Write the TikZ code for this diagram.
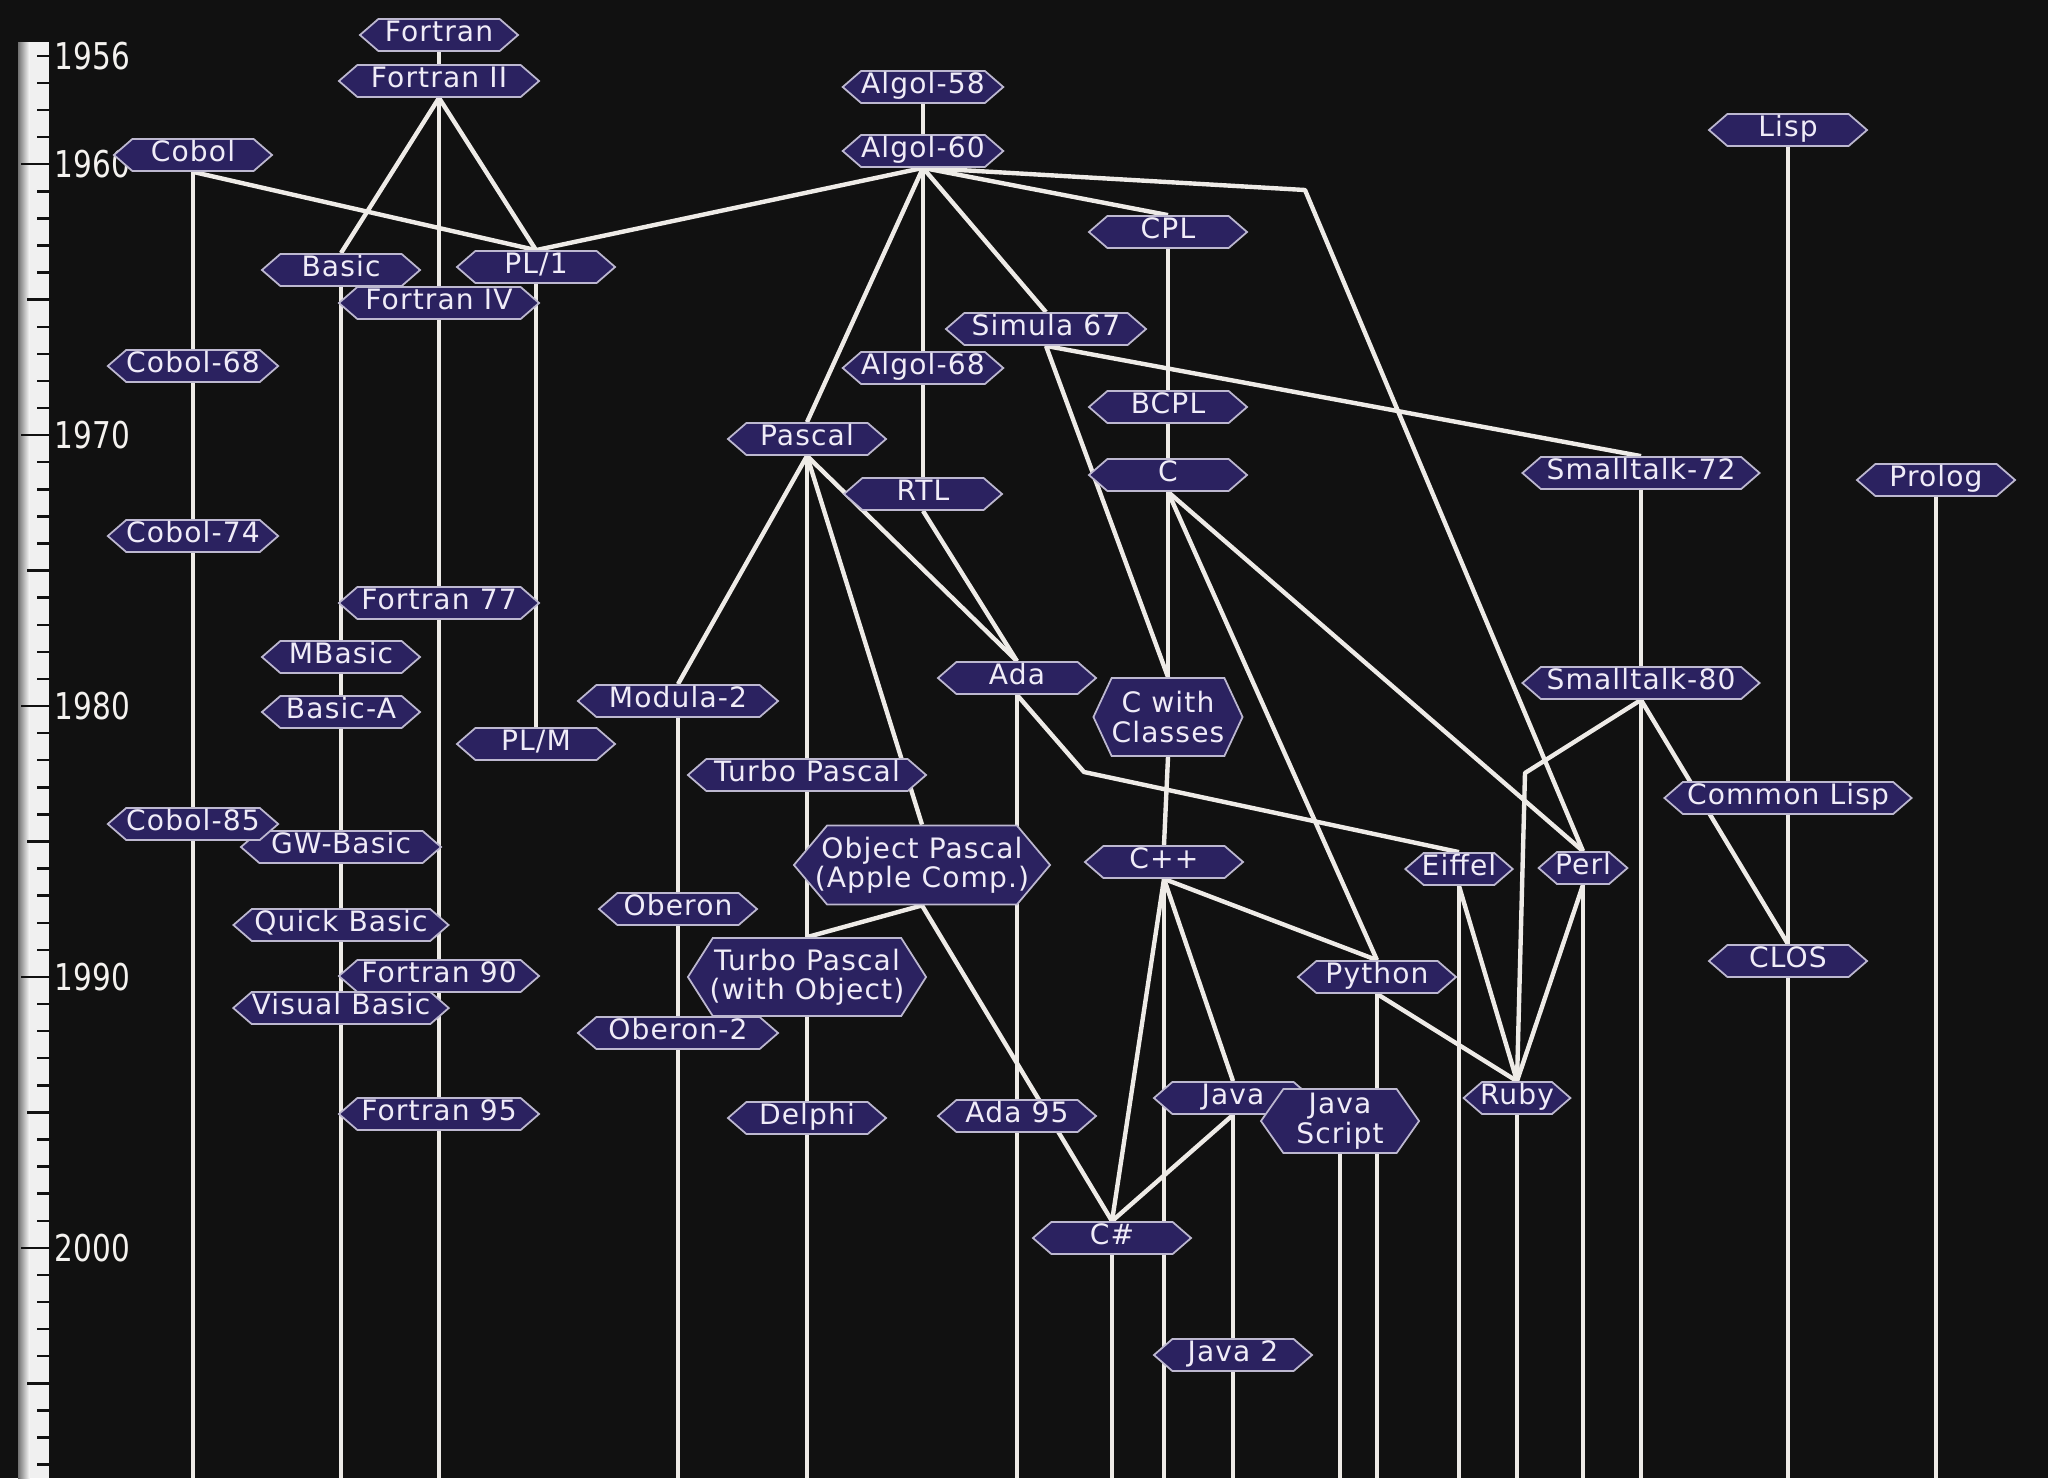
\documentclass[tikz,border=0pt]{standalone}
\usepackage{fontspec}
\usetikzlibrary{shapes.symbols}
\newfontfamily\langfont[LetterSpace=4]{DejaVu Sans}
\newfontfamily\yearfont[FakeStretch=0.8]{DejaVu Sans}
\definecolor{boardbg}{HTML}{111111}
\definecolor{langfill}{HTML}{2B2260}
\definecolor{langedge}{HTML}{BDB8D0}
\definecolor{langtext}{HTML}{F0ECF8}
\definecolor{wirecol}{HTML}{EEEBE7}
\definecolor{yearcol}{HTML}{F4F2EF}
\pgfdeclarelayer{back}
\pgfdeclarelayer{wires}
\pgfsetlayers{back,wires,main}

\begin{document}
\begin{tikzpicture}[x=0.01cm, y=-0.01cm,
  langbase/.style={signal, signal to=west and east, signal pointer angle=82,
    fill=langfill, draw=langedge, line width=0.5pt, text=langtext,
    font=\langfont\fontsize{8pt}{8.4pt}\selectfont,
    minimum width=1.58cm, minimum height=0.32cm, inner xsep=0pt, inner ysep=0pt},
  lang/.style={langbase, text height=5.8pt, text depth=2pt},
  wide/.style={minimum width=2cm},
  small/.style={minimum width=0pt, inner xsep=-0.02cm},
  twoline/.style={langbase, align=center},
  wire/.style={draw=wirecol, line width=1.25pt, line join=round},
  tick/.style={draw=boardbg, line width=0.7pt},
  year/.style={font=\yearfont\fontsize{10.5pt}{12pt}\selectfont, text=yearcol, inner sep=0pt, anchor=west}]

\useasboundingbox (0,0) rectangle (2048,1478);
\coordinate (floor) at (0,1478);

% Time scale
\begin{pgfonlayer}{back}
\fill[boardbg] (0,0) rectangle (2048,1478);
\shade[left color=black!55, right color=white] (18,42) rectangle (30,1478);
\fill[white!94!black] (30,42) rectangle (49,1478);
\foreach \yr in {1956,...,2008} {
  \pgfmathsetmacro\ty{164.2+(\yr-1960)*27.09}
  \pgfmathsetmacro\tx{ifthenelse(mod(\yr,10)==0,21,ifthenelse(mod(\yr,5)==0,27,37))}
  \draw[tick] (\tx,\ty) -- (49,\ty);
}
\foreach \yr in {1956,1960,1970,1980,1990,2000}
  \node[year] (y\yr) at (54,{164.2+(\yr-1960)*27.09}) {\yr};
\end{pgfonlayer}

% 1950s
\node[lang] (fortran) at (439,35) {Fortran};
\node[lang, wide] (fortran2) at (439,81) {Fortran II};
\node[lang] (algol58) at (923,87) {Algol-58};
\node[lang] (algol60) at (923,151) {Algol-60};
\node[lang] (lisp) at (1788,130) {Lisp};
\node[lang] (cobol) at (193,155) {Cobol};

% 1960s
\node[lang] (cpl) at (1168,232) {CPL};
\node[lang] (basic) at (341,270) {Basic};
\node[lang] (pl1) at (536,267) {PL/1};
\node[lang, wide] (fortran4) at (439,303) {Fortran IV};
\node[lang, wide] (simula) at (1046,329) {Simula 67};
\node[lang] (cobol68) at (193,366) {Cobol-68};
\node[lang] (algol68) at (923,368) {Algol-68};
\node[lang] (bcpl) at (1168,407) {BCPL};

% 1970s
\node[lang] (pascal) at (807,439) {Pascal};
\node[lang] (c) at (1168,475) {C};
\node[lang, minimum width=2.37cm] (smalltalk72) at (1641,473) {Smalltalk-72};
\node[lang] (prolog) at (1936,480) {Prolog};
\node[lang] (rtl) at (923,494) {RTL};
\node[lang] (cobol74) at (193,536) {Cobol-74};
\node[lang, wide] (fortran77) at (439,603) {Fortran 77};
\node[lang] (mbasic) at (341,657) {MBasic};
\node[lang] (ada) at (1017,678) {Ada};
\node[lang, minimum width=2.37cm] (smalltalk80) at (1641,683) {Smalltalk-80};

% 1980s
\node[lang, wide] (modula2) at (678,701) {Modula-2};
\node[twoline, signal pointer angle=130, minimum height=0.78cm, minimum width=1.48cm] (cwc) at (1168,717) {C with\\Classes};
\node[lang] (basica) at (341,712) {Basic-A};
\node[lang] (plm) at (536,744) {PL/M};
\node[lang, minimum width=2.38cm] (turbo) at (807,775) {Turbo Pascal};
\node[lang, minimum width=2.47cm] (clisp) at (1788,798) {Common Lisp};
\node[lang, wide] (gwbasic) at (341,847) {GW-Basic};
\node[lang] (cobol85) at (193,824) {Cobol-85};
\node[lang] (cpp) at (1164,862) {C++};
\node[twoline, signal pointer angle=100, minimum height=0.79cm, minimum width=2.56cm, inner xsep=-0.13cm] (objpascal) at (922,865) {Object Pascal\\(Apple Comp.)};
\node[lang, small] (eiffel) at (1459,869) {Eiffel};
\node[lang, small] (perl) at (1583,868) {Perl};
\node[lang] (oberon) at (678,909) {Oberon};
\node[lang, minimum width=2.15cm] (quickbasic) at (341,925) {Quick Basic};
\node[lang] (clos) at (1788,961) {CLOS};

% 1990s
\node[lang, wide] (fortran90) at (439,976) {Fortran 90};
\node[twoline, signal pointer angle=115, minimum height=0.78cm, minimum width=2.38cm, inner xsep=-0.05cm] (tpwo) at (807,977) {Turbo Pascal\\(with Object)};
\node[lang] (python) at (1377,977) {Python};
\node[lang, minimum width=2.15cm] (vbasic) at (341,1008) {Visual Basic};
\node[lang, wide] (oberon2) at (678,1033) {Oberon-2};
\node[lang, wide] (fortran95) at (439,1114) {Fortran 95};
\node[lang] (delphi) at (807,1118) {Delphi};
\node[lang] (ada95) at (1017,1116) {Ada 95};
\node[lang] (java) at (1233,1098) {Java};
\node[twoline, signal pointer angle=110, minimum height=0.64cm] (jscript) at (1340,1121) {Java\\Script};
\node[lang, small] (ruby) at (1517,1098) {Ruby};

% 2000s
\node[lang] (csharp) at (1112,1238) {C\#};
\node[lang] (java2) at (1233,1355) {Java 2};

% bends
\coordinate (bendperl) at (1305,190);
\coordinate (bendeiffel) at (1084,772);
\coordinate (bendruby) at (1525,773);

\begin{pgfonlayer}{wires}
% Fortran, Cobol and PL/1
\draw[wire] (fortran.south) -- (fortran2.north);
\foreach \kid in {basic,fortran4,pl1}
  \draw[wire] (fortran2.south) -- (\kid.north);
\draw[wire] (cobol.south) -- (pl1.north);
\draw[wire] (algol60.south) -- (pl1.north);
\draw[wire] (pl1.south) -- (plm.north);

% straight lines of descent
\foreach \a/\b in {cobol/cobol68, cobol68/cobol74, cobol74/cobol85,
    basic/mbasic, mbasic/basica, basica/gwbasic, gwbasic/quickbasic, quickbasic/vbasic,
    fortran4/fortran77, fortran77/fortran90, fortran90/fortran95,
    algol58/algol60, algol60/algol68, algol68/rtl,
    cpl/bcpl, bcpl/c, c/cwc, cwc/cpp,
    modula2/oberon, oberon/oberon2,
    pascal/turbo, turbo/tpwo, tpwo/delphi,
    ada/ada95, java/java2,
    smalltalk72/smalltalk80, lisp/clisp, clisp/clos}
  \draw[wire] (\a.south) -- (\b.north);

% branches
\foreach \a/\b in {algol60/cpl, algol60/simula, algol60/pascal,
    simula/cwc, simula/smalltalk72, rtl/ada,
    pascal/modula2, pascal/objpascal, pascal/ada,
    objpascal/tpwo, objpascal/csharp,
    c/python, c/perl, cpp/csharp, cpp/java, cpp/python, java/csharp,
    python/ruby, eiffel/ruby, perl/ruby, smalltalk80/clos}
  \draw[wire] (\a.south) -- (\b.north);

% bent lines
\draw[wire] (algol60.south) -- (bendperl) -- (perl.north);
\draw[wire] (ada.south) -- (bendeiffel) -- (eiffel.north);
\draw[wire] (smalltalk80.south) -- (bendruby) -- (ruby.north);

% lines running off the bottom
\foreach \a in {cobol85, vbasic, fortran95, oberon2, delphi, ada95, csharp, cpp,
    java2, jscript, python, eiffel, ruby, perl, smalltalk80, clos, prolog}
  \draw[wire] (\a.south) -- (\a.south |- floor);
\end{pgfonlayer}

\end{tikzpicture}
\end{document}
